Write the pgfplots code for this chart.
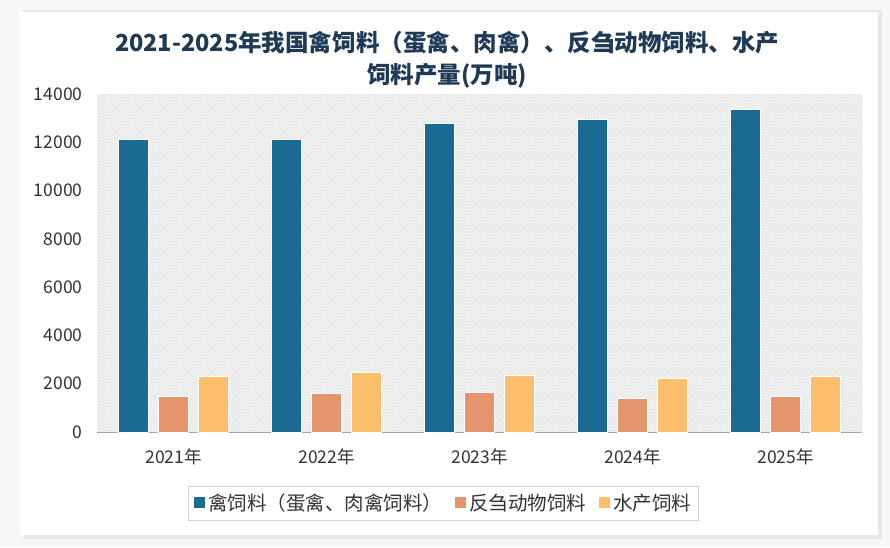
\documentclass[border=0pt]{standalone}
\usepackage{pgfplots}
\pgfplotsset{compat=1.18}
\usepackage{fontspec}
\setmainfont{Noto Sans CJK SC}
\usetikzlibrary{patterns}
\definecolor{cBlue}{HTML}{1B6A93}
\definecolor{cOrange}{HTML}{E4956B}
\definecolor{cYellow}{HTML}{FBBE6D}
\definecolor{cTitle}{HTML}{1E3A56}
\definecolor{cText}{HTML}{333333}
\begin{document}
\begin{tikzpicture}
\useasboundingbox (0pt,0pt) rectangle (890pt,547pt);
\fill[gray!6] (0pt,0pt) rectangle (890pt,547pt);
\fill[gray!18] (23pt,8pt) rectangle (882pt,537pt);
\fill[white] (20pt,12pt) rectangle (878pt,535pt);
\begin{axis}[
  at={(97pt,115pt)}, anchor=south west,
  scale only axis, width=765pt, height=338pt,
  ybar=10pt, bar width=30pt,
  xmin=-0.5, xmax=4.5, ymin=0, ymax=14000,
  xtick={0,1,2,3,4},
  xticklabels={2021年,2022年,2023年,2024年,2025年},
  ytick={0,2000,...,14000},
  separate axis lines,
  axis x line*=bottom, axis y line*=left,
  y axis line style={draw=none},
  x axis line style={draw=gray!70, line width=0.8pt},
  major tick length=0pt,
  /pgf/number format/assume math mode=true,
  /pgf/number format/1000 sep={},
  scaled y ticks=false,
  ticklabel style={font=\fontsize{17.5}{17.5}\selectfont, text=cText},
  yticklabel style={xshift=-11pt},
  xticklabel style={yshift=-13pt},
  axis background/.style={fill=gray!6, postaction={pattern=north west lines, pattern color=gray!28}},
  legend columns=-1,
  legend style={at={(0.119,-0.160)}, anchor=north west, draw=gray!35,
    font=\fontsize{19.5}{19.5}\selectfont, text=cText, inner ysep=6pt, inner xsep=5pt,
    /tikz/every even column/.append style={column sep=10pt}},
  legend image code/.code={\fill[#1] (0pt,-5.5pt) rectangle (12pt,6.5pt);},
  every axis plot/.append style={draw=white, line width=1pt},
]
\addplot[fill=cBlue] coordinates {(0,12100) (1,12100) (2,12790) (3,12960) (4,13340)};
\addplot[fill=cOrange] coordinates {(0,1460) (1,1600) (2,1640) (3,1400) (4,1460)};
\addplot[fill=cYellow] coordinates {(0,2290) (1,2470) (2,2360) (3,2220) (4,2290)};
\legend{禽饲料（蛋禽、肉禽饲料）,反刍动物饲料,水产饲料}
\end{axis}
\node[font=\fontsize{23.5}{32}\selectfont\bfseries, text=cTitle, align=center] at (447pt,487pt)
  {2021-2025年我国禽饲料（蛋禽、肉禽）、反刍动物饲料、水产\\饲料产量(万吨)};
\end{tikzpicture}
\end{document}
